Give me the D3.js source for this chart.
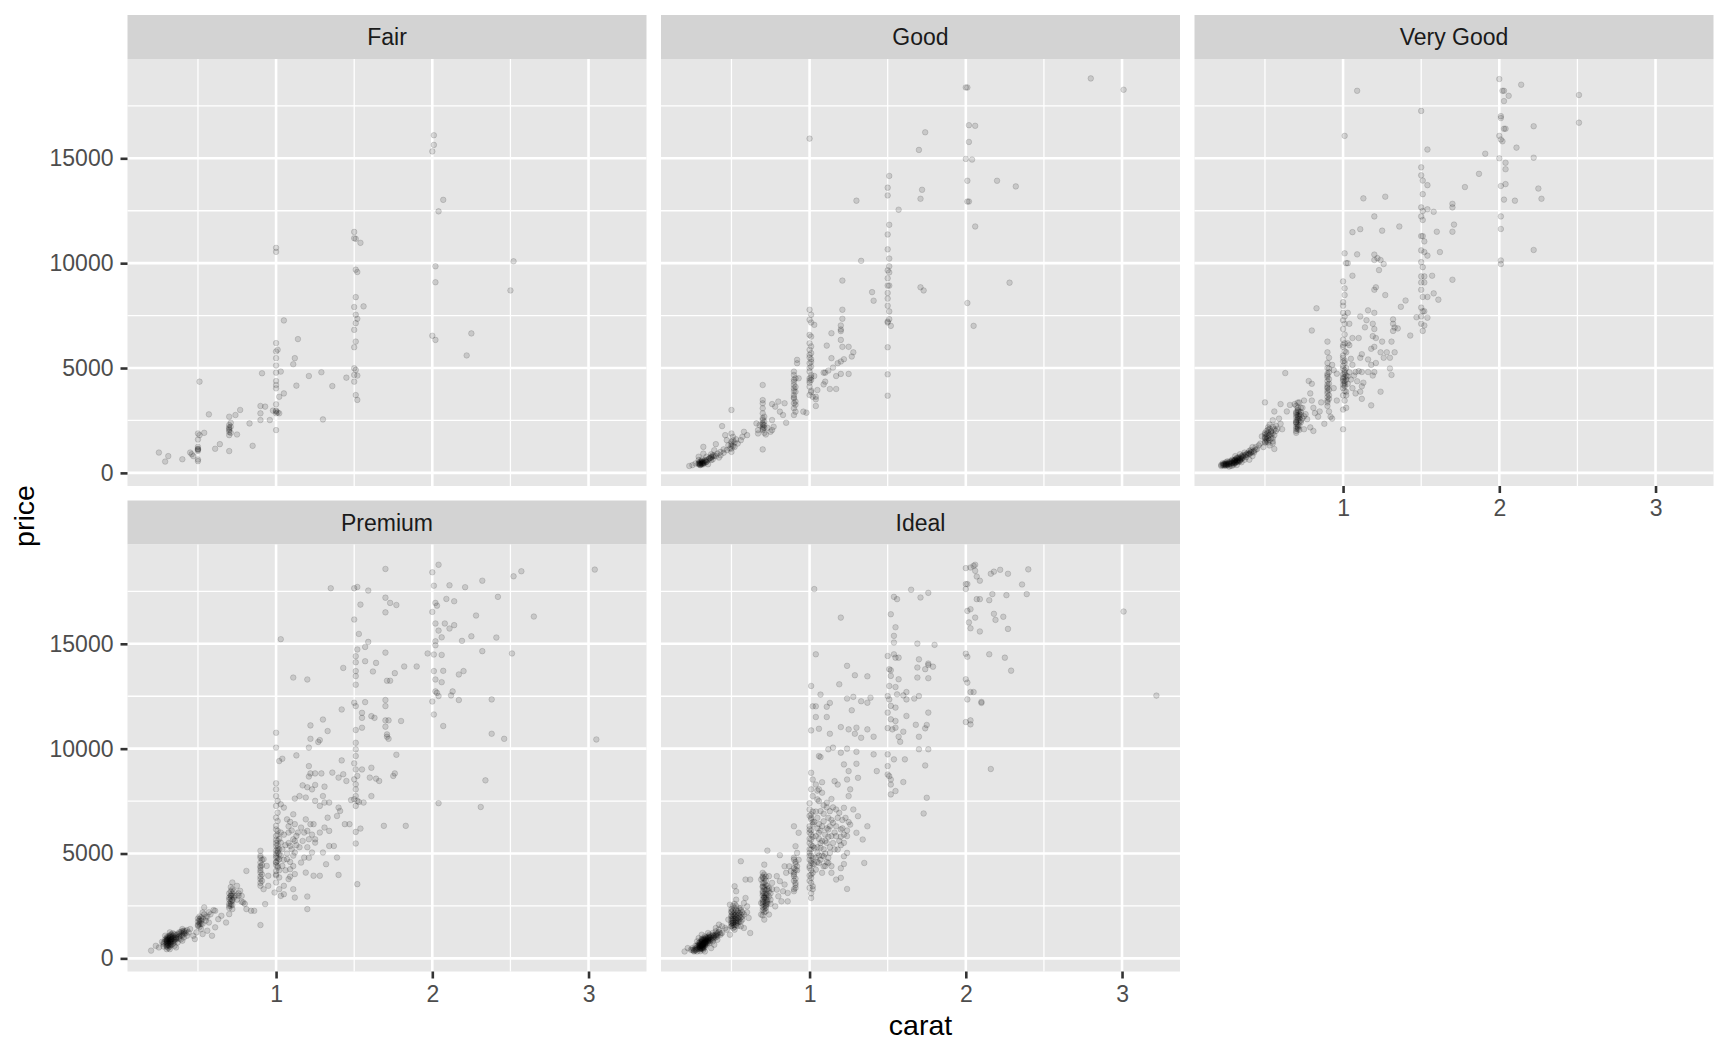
<!DOCTYPE html>
<html>
<head>
<meta charset="utf-8">
<title>Diamonds: price vs carat by cut</title>
<script src="https://d3js.org/d3.v7.min.js"></script>
<style>
  body { margin: 0; background: #ffffff; }
  svg text { font-family: "Liberation Sans", Arial, Helvetica, sans-serif; }
  .axis text { font-size: 23px; fill: #4d4d4d; }
  .axis line { stroke: #333333; stroke-width: 2.6; }
  .axis path { display: none; }
</style>
</head>
<body>
<div id="container"></div>
<script>
// FACET LABELS
const cuts = ["Fair", "Good", "Very Good", "Premium", "Ideal"];

// TICKS
const xTicks = [1, 2, 3];
const xMinor = [0.5, 1.5, 2.5];
const yTicks = [0, 5000, 10000, 15000];
const yMinor = [2500, 7500, 12500, 17500];

// POINTS [carat, price], one array per cut
const fair = [[0.25,970],[0.29,540],[0.31,800],[0.40,650],[0.45,970],[0.46,890],[0.47,800],[0.50,1880],[0.50,1590],[0.50,1240],[0.50,1130],[0.50,1050],[0.50,560],[0.50,640],[0.51,4350],[0.51,1800],[0.54,1910],[0.57,2790],[0.61,1150],[0.64,1370],[0.70,1040],[0.70,1800],[0.70,2040],[0.70,2280],[0.71,2390],[0.70,2170],[0.71,1910],[0.70,2680],[0.74,2760],[0.75,1830],[0.77,3000],[0.83,2360],[0.85,1290],[0.90,3190],[0.90,2840],[0.90,2520],[0.93,3160],[0.91,4750],[0.96,2520],[0.98,2970],[1.00,2040],[1.00,2970],[1.00,2840],[1.00,3270],[1.00,4030],[1.00,4190],[1.00,4380],[1.00,4780],[1.00,5120],[1.00,5470],[1.00,5790],[1.00,6190],[1.00,10730],[1.00,10540],[1.01,5870],[1.02,2840],[1.02,3630],[1.03,4830],[1.05,3790],[1.05,7270],[1.11,5180],[1.12,5470],[1.13,4160],[1.14,6380],[1.21,4620],[1.29,4800],[1.30,2550],[1.36,4140],[1.45,4540],[1.50,11490],[1.50,11190],[1.51,11160],[1.54,10970],[1.51,9690],[1.52,9580],[1.51,8380],[1.50,7910],[1.56,7940],[1.51,7540],[1.52,7350],[1.51,7140],[1.50,6820],[1.51,6260],[1.50,5990],[1.50,4990],[1.51,4910],[1.50,4670],[1.52,4640],[1.50,4350],[1.51,3710],[1.52,3480],[2.01,16100],[2.01,15640],[2.00,15330],[2.07,13020],[2.04,12470],[2.02,9850],[2.02,9090],[2.00,6540],[2.02,6340],[2.25,6650],[2.22,5600],[2.52,10090],[2.50,8700],
  [0.70,1950],[0.70,2100],[0.71,2200],[0.50,1150],[0.50,1100],[1.00,2930],[1.01,2880]];

const good = [[2.80,18810],[3.01,18270],[2.00,18380],[2.01,18380],[1.00,15940],[2.02,16580],[2.06,16550],[1.74,16240],[2.02,15780],[1.70,15400],[2.00,14970],[2.04,14940],[1.51,14160],[1.50,13600],[1.50,13230],[2.01,13930],[2.20,13930],[2.32,13660],[1.72,13500],[1.71,13070],[1.30,12980],[2.01,12940],[2.02,12940],[1.57,12550],[2.06,11750],[1.51,11830],[1.50,11370],[1.50,10660],[1.51,10220],[1.33,10110],
  [1.51,9850],[1.50,9660],[1.51,9560],[1.50,9280],[1.51,8930],[1.50,8930],[1.50,8580],[1.50,8310],[1.50,7970],[1.51,7700],[1.51,7330],[1.50,7220],[1.50,7170],[1.52,7010],
  [1.21,9170],[1.40,8620],[1.41,8210],[1.71,8850],[1.73,8700],[2.28,9070],[2.01,8100],[2.05,7010],[1.50,5990],[1.50,4700],[1.50,3680],
  [1.21,7780],[1.21,7350],[1.20,7030],[1.20,6840],[1.20,6760],[1.14,6660],[1.20,6340],[1.11,6070],[1.21,6010],[1.25,6010],[1.28,5750],[1.27,5550],[1.14,5470],[1.22,5420],[1.20,5310],[1.18,5230],[1.15,5020],[1.12,4880],[1.09,4780],[1.10,4780],[1.17,4620],[1.20,4720],[1.25,4720],[1.10,4350],[1.09,4220],[1.13,4000],[1.17,4000],[1.05,3950],[1.04,3510],[1.04,3190],
  [1.00,7780],[1.01,7540],[1.00,7300],[1.01,7170],[1.03,7060],[1.00,6580],[1.01,6500],[1.00,6180],[1.01,6030],[1.00,5870],[1.01,5710],[1.00,5630],[1.01,5420],[1.00,5230],[1.01,5070],[1.00,4830],[1.01,4670],[1.00,4510],[1.01,4430],[1.03,4620],[1.00,4110],[1.01,3920],[1.00,3710],[1.02,3630],[1.04,3630],
  [0.90,4830],[0.90,4670],[0.91,4510],[0.90,4350],[0.90,4190],[0.90,4030],[0.91,3870],[0.90,3710],[0.90,3550],[0.91,3400],[0.90,3320],[0.90,3080],[0.91,2920],[0.90,2760],
  [0.92,5390],[0.92,5230],[0.93,4510],[0.96,2920],[0.98,2870],[0.84,3320],[0.85,2390],[0.81,2920],[0.80,3400],[0.76,3280],[0.78,3160],[0.83,2760],[0.76,2520],[0.73,2150],[0.75,1960],
  [0.70,4190],[0.70,3470],[0.70,3320],[0.70,3080],[0.70,2840],[0.71,2680],[0.70,2520],[0.70,2360],[0.71,2280],[0.70,2200],[0.70,2040],[0.71,1910],[0.70,1120],
  [0.68,2280],[0.67,2040],[0.66,2360],[0.67,1880],[0.72,1830],[0.76,2040],[0.77,2200],
  [0.50,3000],[0.50,1880],[0.51,1720],[0.50,1480],[0.51,1280],[0.50,1160],[0.50,1000],[0.52,1240],[0.54,1400],[0.56,1560],[0.58,1960],[0.57,1720],[0.60,1800],[0.44,2230],[0.46,1800],[0.47,1560],[0.48,1320],[0.45,1120],[0.43,1000],
  [0.32,1240],[0.40,1370],[0.39,1080],[0.41,920],[0.38,840],[0.37,770],[0.42,730],[0.34,770],[0.36,690],[0.31,640],[0.30,530],[0.32,480],[0.29,410],[0.30,370],[0.27,450],[0.25,370],[0.23,330],[0.34,530],[0.35,410],[0.29,770],[0.32,920],[0.43,840],[0.45,960],[0.47,1080],[0.49,1160],
  [0.29,610],[0.31,530],[0.33,610],[0.31,450],[0.29,480],[0.32,410],[0.37,610],[0.38,640],[0.40,800],[0.37,890],
  [0.30,450],[0.31,500],[0.30,420],[0.31,440],[0.32,520],[0.31,560],[0.30,480],[0.29,440],[0.32,460],[0.33,560],[0.34,600],[0.35,640],[0.36,700],[0.37,720],[0.33,480],[0.34,520],[0.30,380],[0.31,400],[0.38,780],[0.39,820],
  [0.50,1400],[0.51,1550],[0.52,1450],[0.53,1600],[0.50,1300],[0.70,2100],[0.70,2300],[0.71,2450],[0.70,2600],[0.71,2150],[0.90,3600],[0.91,3250],[0.90,3900],[0.91,4100],[0.90,4450],[1.00,4400],[1.01,4550],[1.00,5000],[1.01,5300],[1.00,5500],[1.01,3850],[1.00,4300]];

const veryGood = [[2.00,18780],[2.14,18510],[2.02,18220],[2.03,18220],[2.06,17980],[2.03,17730],[2.51,18020],[2.51,16700],[1.09,18220],[1.50,17260],[1.01,16070],[2.01,17010],[2.01,16920],[2.03,16410],[2.04,16410],[2.00,16070],[2.01,15900],[2.02,15810],[2.22,16530],[2.11,15510],[1.54,15420],[1.91,15220],[2.22,15030],[2.00,15000],[2.04,14790],[2.04,14480],[1.87,14260],
  [1.50,14570],[1.50,14190],[1.51,13940],[1.54,13720],[2.01,13680],[2.04,13770],[1.78,13630],[2.25,13560],[2.27,13070],[2.10,12980],[2.03,13030],[1.51,13290],[1.13,13090],[1.27,13170],
  [1.50,12660],[1.51,12490],[1.54,12570],[1.50,12230],[1.51,12060],[1.70,12830],[1.70,12660],[1.58,12450],[1.20,12230],[2.01,12230],[2.01,11630],[1.71,11840],[1.70,11500],[1.36,11750],[1.25,11550],[1.11,11620],[1.06,11480],[1.60,11500],
  [1.50,11290],[1.51,11290],[1.52,11040],[2.22,10630],[1.62,10530],[1.50,10610],[1.52,10530],[1.54,10360],[1.01,10470],[1.02,10000],[1.03,10000],[1.09,10420],
  [1.20,10410],[1.20,10150],[1.24,10150],[1.26,9960],[1.22,10240],[2.01,10130],[2.01,9960],
  [1.50,10050],[1.51,9810],[1.50,9370],[1.52,9370],[1.57,9400],[1.50,9080],[1.52,9080],[1.06,9400],[1.70,9210],[1.23,9670],[1.00,9130],[1.21,8850],[1.20,8730],[1.27,8480],
  [1.01,8800],[1.01,8480],[1.00,8140],[1.00,7970],[1.50,8730],[1.51,8390],[1.54,8390],[1.58,8560],[1.61,8260],[1.50,7880],[1.52,7710],[1.51,7710],
  [1.40,8220],[1.37,7920],[0.83,7850],[1.32,7320],[1.16,7750],[1.20,7630],[1.11,7460],[1.15,7280],
  [1.47,7420],[1.50,7460],[1.54,7400],[1.50,7110],[1.52,7030],[1.51,6770],
  [1.00,7630],[1.01,7460],[1.00,7280],[1.01,7110],[1.03,7630],[0.80,6790],[1.43,6550],
  [1.19,7110],[1.20,6860],[1.19,6520],[1.21,6430],[1.32,7110],[1.35,6890],[1.32,6770],[1.33,6930],
  [1.00,6860],[1.01,6600],[1.00,6350],[1.01,6180],[1.00,6010],[1.02,5750],[1.00,5490],[1.01,5240],[1.00,4980],[1.01,4730],[1.01,4560],[1.00,4380],[1.01,4210],[1.00,4040],[1.02,3870],[1.00,3700],[1.01,3450],[1.00,3020],[1.02,3100],
  [1.03,6180],[1.04,6090],[1.06,6430],[1.04,7110],[1.05,5440],[1.06,5150],[1.07,4640],[1.08,4810],[1.09,4370],[1.11,5490],[1.10,4850],[1.12,4130],[1.11,3870],[1.13,4300],[1.12,3530],[1.08,3790],[1.06,4040],[1.00,2080],
  [1.00,4470],[1.01,4380],[1.01,4130],[1.02,4640],[1.00,5320],[1.01,4810],
  [1.10,6430],[1.12,5660],[1.14,6940],[1.16,5410],[1.18,5920],[1.20,6010],[1.21,5240],[1.19,4640],[1.25,6260],[1.24,5750],[1.28,5750],[1.26,5490],[1.30,5490],[1.31,6260],[1.30,4980],[1.31,4670],[1.33,5750],[1.24,3870],[1.18,3220],[1.16,4810],[1.18,5150],[1.20,4810],[1.12,4810],
  [0.90,6260],[0.90,5750],[0.91,5490],[0.90,5240],[0.91,4980],[0.90,4730],[0.91,4470],[0.90,4210],[0.90,4040],[0.90,3790],[0.91,3530],[0.90,3360],[0.90,3190],[0.91,2930],[0.92,2680],[0.93,2590],[0.94,4900],[0.96,4730],[0.94,4040],[0.96,3450],[0.93,5150],
  [0.90,4380],[0.91,3960],[0.90,3620],[0.90,4560],
  [0.63,4760],[0.78,4380],[0.80,4250],[0.71,3100],[0.71,2930],[0.70,2760],[0.71,2590],[0.70,2420],[0.72,2250],[0.71,2080],[0.70,1910],[0.73,2760],[0.74,3100],[0.75,3450],[0.72,3360],[0.69,3280],[0.73,2420],[0.75,2080],[0.77,2560],[0.79,3790],[0.80,3450],[0.81,3100],[0.82,2850],[0.84,2680],[0.85,2930],[0.86,3360],[0.88,2340],[0.79,2170],[0.81,2000],
  [0.70,2850],[0.71,2680],[0.70,2340],[0.70,2500],[0.72,2600],[0.71,2200],[0.70,2000],[0.72,2930],
  [0.50,3360],[0.56,2930],[0.60,3280],[0.66,3240],[0.64,2930],[0.59,2590],[0.55,2510],[0.52,2170],[0.51,2000],[0.50,1830],[0.52,1650],[0.51,1480],[0.53,1310],[0.54,1830],[0.55,1650],[0.56,2080],[0.57,2250],[0.60,2340],[0.61,2080],[0.55,1400],[0.48,1740],[0.47,1400],[0.49,1230],[0.56,1140],
  [0.50,1650],[0.51,1740],[0.52,1910],[0.53,1560],[0.50,1500],[0.54,2000],
  [0.22,380],[0.23,460],[0.24,340],[0.25,380],[0.26,550],[0.27,410],[0.28,340],[0.29,630],[0.31,460],[0.32,720],[0.33,510],[0.34,630],[0.35,800],[0.36,720],[0.37,970],[0.38,750],[0.40,890],[0.41,1090],[0.42,800],[0.43,970],[0.44,1230],[0.32,380],[0.29,340],[0.27,300],[0.25,510],[0.35,510],[0.40,630],[0.42,1230],[0.34,890],[0.31,800],[0.37,630],[0.45,1140],[0.46,1310],[0.22,330],
  [0.30,450],[0.31,520],[0.30,600],[0.32,550],[0.33,700],[0.31,640],[0.30,390],[0.26,420],[0.28,480],[0.24,420],[0.23,360],[0.35,700],[0.36,850],[0.38,900],[0.39,950],[0.41,1000],[0.40,1050],[0.33,600],[0.34,560],[0.29,500],
  [0.24,380],[0.25,420],[0.25,450],[0.26,400],[0.26,470],[0.27,450],[0.27,520],[0.28,430],[0.28,550],[0.29,470],[0.29,580],[0.30,520],[0.30,560],[0.31,580],[0.31,620],[0.32,600],[0.32,680],[0.33,650],[0.33,740],[0.34,700],[0.35,760],[0.36,780],[0.37,820],[0.38,860],[0.39,880],[0.40,920],[0.41,950],[0.42,1000],[0.43,1050],[0.44,1100],[0.23,400],[0.24,440],[0.25,350],[0.26,360],[0.30,480],[0.31,500],[0.32,520],[0.33,560],[0.34,610],[0.35,660],
  [0.50,1700],[0.50,1900],[0.51,1600],[0.51,1850],[0.52,1750],[0.52,2050],[0.53,1800],[0.53,2100],[0.54,1650],[0.54,1950],[0.55,1900],[0.55,2200],[0.56,1800],[0.57,2000],[0.58,2100],[0.50,1450],[0.51,1550],[0.52,1450],[0.53,2300],[0.55,1500],
  [0.70,2200],[0.70,2400],[0.70,2650],[0.70,2900],[0.71,2300],[0.71,2500],[0.71,2750],[0.71,3000],[0.72,2450],[0.72,2700],[0.72,2800],[0.73,2500],[0.73,2900],[0.74,2600],[0.75,2700],[0.76,2800],[0.70,2100],[0.71,2150],[0.72,2050],[0.73,3100],[0.70,3200],[0.71,3350],
  [0.90,3900],[0.90,4100],[0.91,4250],[0.90,4650],[0.91,3700],[0.90,3450],[0.91,4800],[0.90,5000],
  [1.00,4200],[1.00,4550],[1.01,4300],[1.00,4700],[1.01,4900],[1.00,5100],[1.01,5350],[1.00,5600],[1.01,5800],[1.00,6100],[1.01,3900],[1.02,4450],[1.02,5000],[1.03,4600],[1.03,4250],[1.04,4800],[1.05,4450],[1.02,3700]];

const premium = [[3.04,18540],[3.05,10440],[1.70,18570],[2.04,18770],[2.00,18410],[2.57,18460],[2.52,18220],[2.32,18010],[1.35,17650],[1.50,17650],[1.52,17710],[1.59,17540],[2.01,17770],[2.11,17790],[2.21,17700],[2.42,17240],[1.70,17200],[1.73,16950],[1.77,16850],[1.54,16870],[1.70,16500],
  [2.02,16950],[2.03,16820],[2.09,17140],[2.14,17030],[2.00,16520],[2.28,16350],[2.65,16300],[1.50,16160],[2.02,15970],[2.08,15970],[2.14,15890],[2.04,15630],[2.11,15730],[1.53,15470],[1.03,15220],[1.59,15090],[1.57,14850],
  [2.02,15120],[2.06,15310],[2.02,14930],[2.19,15140],[2.25,15360],[2.41,15300],[1.52,14730],[1.51,14410],[1.57,14170],[1.64,14090],[1.62,13680],[1.70,14580],[1.97,14540],[2.01,14490],[2.06,14470],[2.32,14650],[2.51,14540],
  [1.43,13850],[1.51,14120],[1.51,13700],[1.51,13460],[1.51,13050],[1.82,13920],[1.90,13920],[1.11,13390],[1.20,13300],[1.76,13600],[1.73,13240],[1.71,13240],
  [2.01,13700],[2.07,13710],[2.02,13300],[2.06,13170],[2.17,13540],[2.20,13700],[2.03,12660],[2.02,12730],[2.12,12540],[2.13,12730],[2.04,12510],[2.00,12250],[2.17,12320],[2.38,12350],[2.01,11630],[2.07,11080],[2.38,10710],[2.46,10470],
  [1.50,12190],[1.51,12030],[1.57,12220],[1.55,11710],[1.55,11470],[1.61,11550],[1.63,11470],[1.55,11000],[1.51,10890],[1.42,11870],[1.70,12320],[1.70,12030],[1.80,11320],
  [1.70,11350],[1.72,11350],[1.70,11050],[1.71,10680],[1.71,10570],[1.72,10470],[1.30,11390],[1.22,11110],[1.33,10840],[1.00,10760],[1.00,10050],
  [1.21,10050],[1.22,10470],[1.27,10320],[1.28,10410],[1.77,9710],[1.13,9680],[1.04,9520],[1.02,9410],[1.42,9440],
  [1.51,10280],[1.51,9970],[1.51,9650],[1.50,9300],[1.51,9010],[1.52,8700],[1.50,8540],[1.51,8300],[1.51,8060],[1.51,7740],[1.50,7590],[1.52,7510],
  [1.21,9170],[1.22,8820],[1.25,8820],[1.29,8820],[1.21,8670],[1.36,8860],[1.43,8780],[1.45,8460],[1.40,8620],
  [1.55,9010],[1.61,9090],[1.60,8620],[1.64,8570],[1.66,8460],[1.75,8700],[1.76,8820],[2.34,8490],[2.04,7400],[2.31,7220],[1.69,6320],[1.83,6320],
  [1.61,7740],[1.56,7430],[1.48,7550],[1.51,7270],[1.53,7460],[1.47,6400],[1.51,6030],[1.51,5480],[1.52,3540],[1.54,6190],
  [1.31,8190],[1.25,8270],[1.17,8250],[1.20,8160],[1.30,7740],[1.31,7430],
  [1.12,7620],[1.15,7740],[1.19,7670],[1.23,8060],[1.25,7510],[1.28,7270],[1.34,7430],[1.40,7190],[1.41,7030],[1.39,6790],[1.44,6400],
  [1.00,8350],[1.00,8060],[1.00,7740],[1.01,7510],[1.00,7270],[1.01,6950],[1.00,6710],[1.01,6550],[1.00,6320],[1.01,6080],[1.00,5840],[1.01,5600],[1.00,5360],[1.01,5130],[1.00,4890],[1.02,4730],[1.00,4570],[1.01,4330],[1.00,4170],[1.02,3860],[1.00,3620],[1.02,3300],[1.03,2980],[1.02,5210],[1.03,5520],[1.03,6000],
  [1.00,5000],[1.01,4800],[1.00,5500],[1.01,5250],[1.00,4450],[1.01,4650],[1.02,4950],[1.00,6150],[1.01,5900],[1.00,3950],
  [1.03,7350],[1.05,7190],[1.07,6630],[1.09,6510],[1.11,6870],[1.12,6400],[1.08,6000],[1.11,5680],[1.13,5840],[1.09,5360],[1.12,5050],[1.07,4730],[1.04,4410],[1.09,4250],[1.12,4020],[1.08,3780],[1.05,3460],[1.11,3300],[1.12,2900],[1.05,3060],[1.20,2950],[1.20,2350],[1.19,4090],[1.24,3940],[1.28,3940],[1.32,4490],[1.39,4810],[1.40,3980],[1.23,5050],[1.18,4810],[1.16,4570],[1.21,5680],[1.25,5520],[1.28,6000],[1.16,6240],[1.19,6630],[1.24,6400],[1.31,6240],[1.34,6080],[1.20,6080],[1.25,5680],[1.30,5050],[1.34,5360],[1.37,5360],[1.33,6710],
  [0.90,5130],[0.90,4890],[0.90,4570],[0.90,4330],[0.90,4090],[0.90,3780],[0.90,3460],[0.92,3300],[0.93,2590],[0.90,1590],[0.92,4730],[0.94,4410],[0.95,3460],[0.99,3140],[0.95,3940],
  [0.90,4200],[0.91,4000],[0.90,3600],[0.91,4450],
  [0.72,3620],[0.72,3300],[0.71,2980],[0.72,2750],[0.71,2510],[0.72,2350],[0.70,2110],[0.75,3460],[0.77,3220],[0.78,2980],[0.79,2670],[0.81,2350],[0.84,2270],[0.86,2270],[0.81,4170],[0.76,2980],[0.68,1710],[0.63,1870],[0.65,2030],
  [0.70,3100],[0.71,3400],[0.72,3000],[0.70,2800],[0.71,2600],[0.73,3200],[0.70,2400],
  [0.51,1870],[0.51,1630],[0.52,1400],[0.53,2190],[0.54,2430],[0.55,1950],[0.57,1710],[0.61,1480],[0.61,2270],[0.56,1320],[0.59,1080],[0.49,1240],[0.48,920],[0.53,1160],
  [0.50,1750],[0.51,1500],[0.52,1800],[0.50,1550],[0.53,1650],
  [0.20,370],[0.23,600],[0.25,520],[0.28,680],[0.30,840],[0.31,600],[0.32,440],[0.30,440],[0.29,1080],[0.33,920],[0.35,600],[0.36,1000],[0.37,760],[0.38,1240],[0.39,1080],[0.40,840],[0.41,1320],[0.43,1080],[0.33,1160],[0.32,760],[0.36,520],[0.31,950],[0.28,570],[0.27,790],[0.40,1400],[0.37,1160],[0.44,1240],[0.45,1400],[0.47,1080],[0.32,1240],[0.38,950],
  [0.30,650],[0.31,700],[0.32,800],[0.33,850],[0.34,700],[0.30,550],[0.31,500],[0.32,620],[0.35,900],[0.36,950],[0.34,1000],[0.35,780],[0.40,1100],[0.41,1000],[0.39,900],[0.31,750],[0.30,720],[0.33,640],[0.42,1200],[0.38,1050],
  [0.30,780],[0.30,900],[0.30,1000],[0.31,820],[0.31,880],[0.31,1050],[0.32,700],[0.32,860],[0.32,980],[0.32,1100],[0.33,780],[0.33,900],[0.33,1020],[0.34,820],[0.34,940],[0.34,1080],[0.35,880],[0.35,1000],[0.35,1150],[0.36,900],[0.36,1100],[0.37,1000],[0.38,1150],[0.39,1250],[0.40,1200],[0.41,1150],[0.42,1300],[0.30,600],[0.31,640],[0.32,560],[0.33,700],[0.30,950],[0.31,980],[0.32,1050],[0.33,1100],[0.34,1200],[0.31,900],[0.32,940],[0.30,850],[0.29,800],[0.29,900],[0.28,750],[0.40,1300],[0.41,1250],[0.43,1350],
  [0.50,1600],[0.51,1700],[0.51,1800],[0.52,1650],[0.52,1950],[0.53,1900],[0.54,2100],[0.55,1800],[0.56,2000],[0.57,2200],[0.58,2100],[0.60,2300],[0.50,1900],[0.51,2000],
  [0.70,2600],[0.70,2900],[0.71,2700],[0.71,3000],[0.72,2800],[0.72,3100],[0.70,2500],[0.71,3200],[0.72,2550],[0.73,2900],[0.74,3000],[0.75,2800],[0.76,3100],[0.78,2700],[0.80,2600],[0.71,2850],
  [0.90,3900],[0.90,4400],[0.91,4700],[0.90,4800],[0.91,3700],
  [1.00,4600],[1.00,4800],[1.01,5050],[1.00,5150],[1.01,5400],[1.00,5650],[1.01,4400],[1.02,4200],[1.00,4000],[1.02,5700],[1.03,4900],[1.04,5200],[1.05,4700],[1.06,5400],[1.07,5000],[1.08,5500],[1.09,4600],[1.10,5200],[1.11,4900],[1.12,5600],[1.13,5400],[1.05,5900],[1.08,6300],[1.10,6100],[1.14,6000],[1.15,5300],[1.17,5600],[1.18,6000],[1.20,5300],[1.21,4800],[1.22,6400],[1.23,5900],[1.06,4200],[1.09,3900],[1.11,4400]];

const ideal = [[3.22,12530],[3.01,16540],[2.00,18610],[2.05,18720],[2.06,18770],[2.03,18640],[2.06,18480],[2.07,18210],[2.09,18010],[2.00,17850],[2.01,17850],[2.00,17610],
  [2.16,18340],[2.18,18440],[2.22,18530],[2.27,18340],[2.40,18550],[2.36,17830],[2.39,17370],[2.26,17320],[2.17,17370],[2.15,17080],[2.09,17130],[2.07,17130],
  [1.03,17610],[1.65,17580],[1.71,17210],[1.76,17430],[1.54,17240],[1.56,17130],[1.52,16410],[1.20,16250],
  [2.01,16570],[2.03,16650],[2.06,16250],[2.02,16020],[2.03,15740],[2.09,15590],[2.18,16430],[2.19,16140],[2.24,16290],[2.27,15710],
  [1.55,15790],[1.54,15380],[1.54,15060],[1.69,15010],[1.80,14950],[1.04,14500],[2.00,14530],[2.01,14380],[2.15,14500],[2.25,14340],[2.29,13720],
  [1.50,14420],[1.54,14500],[1.55,14340],[1.57,14340],[1.24,13950],[1.29,13500],[1.37,13450],
  [1.70,14260],[1.76,14060],[1.76,13990],[1.79,13910],[1.69,13870],[1.74,13790],[1.69,13390],[1.76,13360],
  [2.00,13310],[2.01,13150],[2.03,12700],[2.05,12700],[2.01,12350],[2.10,12230],[2.10,12180],[2.00,11270],[2.03,11350],[2.03,11160],[2.16,9030],
  [1.51,13790],[1.52,13740],[1.52,13470],[1.51,12990],[1.55,12940],[1.50,12510],[1.51,12350],[1.52,12040],[1.56,12590],[1.60,12540],[1.62,12350],[1.55,11960],
  [1.01,12990],[1.07,12580],[1.13,12180],[1.02,12020],[1.04,12020],[1.11,12000],
  [1.19,13070],[1.24,12390],[1.28,12470],[1.33,12260],[1.37,12190],[1.39,12430],[1.27,11830],
  [1.04,11510],[1.11,11510],[1.06,10950],[1.01,10870],[1.13,10710],
  [1.20,11030],[1.25,10920],[1.30,11000],[1.37,10920],[1.29,10710],[1.33,10520],[1.41,10570],
  [1.50,11720],[1.52,11400],[1.55,11320],[1.53,10920],[1.50,10980],[1.55,11000],[1.57,10570],[1.58,10330],[1.62,11560],[1.60,10810],
  [1.70,12510],[1.67,12390],[1.76,11720],[1.68,11140],[1.75,11130],[1.74,10970],[1.70,10570],[1.70,9970],[1.76,9970],[1.74,9200],[1.75,7660],[1.73,6910],
  [1.57,13310],[1.62,12700],
  [1.06,9650],[1.07,9600],[1.12,9970],[1.15,10050],[1.20,9810],[1.24,10000],[1.30,9850],[1.41,9730],[1.30,9280],[1.22,9250],[1.25,8930],[1.31,8610],[1.43,8930],
  [1.50,9730],[1.50,9170],[1.50,8770],[1.51,8690],[1.52,8530],[1.52,8290],[1.52,7820],[1.55,7980],[1.60,8410],[1.61,9490],[1.54,9490],
  [1.01,8850],[1.02,8530],[1.01,8060],[1.02,7740],[1.00,7100],[1.01,6860],[1.01,6620],[1.02,6380],[1.00,6150],[1.01,5910],[1.01,5670],[1.02,5350],[1.00,5030],[1.02,4790],[1.01,4550],[1.00,4310],[1.02,4080],[1.01,3840],[1.02,3440],[1.00,3360],[1.01,2880],
  [1.00,5500],[1.01,5200],[1.00,4900],[1.01,4650],[1.00,6000],[1.02,5800],[1.00,4400],[1.01,4200],[1.02,6500],[1.00,6800],[1.01,3600],[1.00,3950],
  [1.04,8290],[1.06,8060],[1.08,7900],[1.05,7580],[1.11,7420],[1.13,7020],[1.07,7020],[1.05,6700],[1.09,6540],[1.12,6150],[1.06,5990],[1.15,6460],[1.14,5830],[1.11,5510],[1.07,5270],[1.05,5030],[1.09,4870],[1.13,5030],[1.12,4550],[1.06,4550],[1.04,4230],[1.08,4080],[1.14,4080],[1.17,3760],[1.20,3840],[1.24,3310],[1.18,5190],[1.22,5510],[1.24,5830],[1.20,6150],[1.26,6380],[1.19,6940],[1.22,7180],[1.25,7740],[1.26,8060],[1.18,8290],[1.16,8450],[1.24,8530],[1.28,7100],[1.31,6780],[1.37,6300],[1.34,5670],[1.30,5990],[1.22,4870],[1.24,5030],[1.35,4550],[1.17,5830],[1.09,4390],[1.03,5270],[1.04,5830],
  [1.05,6200],[1.08,5600],[1.10,5900],[1.12,6700],[1.15,7200],[1.10,5000],[1.07,4700],[1.13,5300],[1.16,6000],[1.20,5400],[1.06,6400],[1.09,7300],[1.11,4600],[1.14,4400],[1.21,6600],
  [1.00,4700],[1.00,5200],[1.01,5400],[1.00,5700],[1.01,6100],[1.00,6300],[1.01,6700],[1.02,7000],[1.00,7400],[1.01,4900],[1.02,4500],[1.01,4000],[1.00,3700],[1.02,3300],[1.01,3100],
  [1.03,4500],[1.04,4800],[1.05,5300],[1.06,5700],[1.07,6100],[1.08,6300],[1.05,4600],[1.06,4900],[1.07,5500],[1.08,4900],[1.09,5200],[1.10,5600],[1.11,6200],[1.12,5800],[1.13,6300],[1.14,6600],[1.10,4400],[1.12,4800],[1.15,5500],[1.16,5200],[1.17,6300],[1.18,6700],[1.19,5600],[1.20,5800],[1.21,6200],[1.22,5900],[1.23,6700],[1.24,6100],[1.25,6500],[1.20,4300],[1.22,4500],[1.09,6900],[1.11,7200],[1.14,7600],[1.17,7100],[1.05,8000],[1.08,8400],[1.03,6500],[1.04,7000],[1.06,7500],
  [0.90,6300],[0.93,5990],[0.91,5350],[0.92,5030],[0.90,4710],[0.92,4390],[0.91,4230],[0.90,3920],[0.91,3600],[0.91,3360],[0.90,3200],[0.88,4160],[0.87,4390],[0.85,4080],[0.84,3520],[0.86,3120],[0.86,2720],
  [0.90,4000],[0.91,4500],[0.90,3700],[0.91,3800],[0.90,4100],[0.90,4300],[0.91,4600],[0.90,4800],[0.91,3500],[0.90,3300],[0.92,4200],[0.93,4700],
  [0.73,5140],[0.71,4470],[0.70,4080],[0.69,3760],[0.70,3440],[0.70,3120],[0.71,2880],[0.69,2640],[0.72,2560],[0.69,2090],[0.72,2240],[0.74,3920],[0.74,3200],[0.76,3600],[0.79,3920],[0.81,3680],[0.79,3280],[0.75,2800],[0.78,2480],[0.80,2960],[0.82,2720],[0.81,4920],[0.84,4390],[0.83,3200],[0.74,2090],[0.71,1850],
  [0.70,3000],[0.71,3300],[0.70,2700],[0.72,3500],[0.71,2500],[0.70,2300],[0.72,2900],[0.71,3600],[0.70,3850],[0.73,2700],[0.72,3100],[0.71,2200],[0.70,2050],[0.73,3300],[0.71,2950],[0.72,2400],
  [0.70,2600],[0.70,2800],[0.70,3200],[0.70,3400],[0.70,3600],[0.71,2700],[0.71,2900],[0.71,3100],[0.71,3400],[0.71,3800],[0.72,2650],[0.72,2800],[0.72,3000],[0.72,3250],[0.72,3700],[0.73,2800],[0.73,3050],[0.73,3450],[0.74,2950],[0.74,3350],[0.75,3100],[0.76,3300],[0.70,2450],[0.71,2350],[0.72,2500],[0.73,2600],[0.70,3900],[0.71,4000],[0.72,3900],[0.75,2600],
  [0.56,4630],[0.52,3440],[0.53,3200],[0.59,3760],[0.62,3760],[0.49,2560],[0.50,2240],[0.52,2010],[0.53,1770],[0.50,1530],[0.54,2170],[0.56,2400],[0.57,1850],[0.58,2640],[0.60,2480],[0.61,1930],[0.62,1210],[0.52,1370],[0.49,1130],[0.58,1450],[0.53,2800],[0.59,2880],[0.51,1690],[0.48,1850],[0.56,1530],
  [0.50,1900],[0.51,2100],[0.52,1600],[0.53,2300],[0.54,1800],[0.55,2000],[0.50,1700],[0.51,1450],[0.52,2200],[0.54,1550],[0.55,1750],[0.53,1950],[0.56,2100],[0.51,1800],[0.52,1900],[0.50,2050],
  [0.50,1650],[0.50,1800],[0.50,2000],[0.50,2200],[0.51,1700],[0.51,1900],[0.51,2000],[0.51,2300],[0.52,1750],[0.52,2050],[0.52,2400],[0.53,1700],[0.53,1850],[0.53,2100],[0.54,1900],[0.54,2250],[0.55,1850],[0.55,2150],[0.56,1950],[0.56,2300],[0.57,2000],[0.57,2200],[0.58,2100],[0.60,2200],[0.50,1550],[0.51,1600],[0.52,1500],[0.53,1600],[0.54,2050],[0.55,2400],[0.50,2350],[0.51,2500],[0.52,2600],[0.53,2500],[0.54,1700],[0.56,1750],
  [0.20,330],[0.22,490],[0.25,490],[0.27,600],[0.29,730],[0.30,490],[0.31,890],[0.32,650],[0.33,1050],[0.35,810],[0.36,1130],[0.37,890],[0.38,1210],[0.39,970],[0.40,1290],[0.41,1050],[0.42,1370],[0.43,1130],[0.44,1210],[0.46,1450],[0.28,330],[0.30,340],[0.32,410],[0.26,330],[0.24,410],[0.29,970],[0.33,600],[0.36,730],[0.38,810],[0.41,890],[0.42,1610],[0.40,1450],[0.28,810],[0.31,1130],[0.35,1210],[0.44,1530],[0.47,1370],[0.39,650],[0.37,490],[0.27,410],[0.33,330],
  [0.30,600],[0.31,550],[0.32,700],[0.30,700],[0.31,650],[0.32,800],[0.33,750],[0.34,850],[0.30,550],[0.31,500],[0.32,560],[0.33,680],[0.34,720],[0.35,900],[0.36,950],[0.31,800],[0.30,800],[0.32,900],[0.33,950],[0.34,1000],[0.35,1050],[0.36,1000],[0.38,1100],[0.40,1100],[0.31,450],[0.32,480],[0.30,420],[0.29,550],[0.28,620],[0.33,520],
  [0.26,420],[0.27,480],[0.28,520],[0.29,600],[0.30,650],[0.30,580],[0.31,620],[0.31,700],[0.32,740],[0.32,660],[0.33,800],[0.33,720],[0.34,780],[0.34,900],[0.35,860],[0.35,950],[0.36,880],[0.36,1020],[0.37,960],[0.37,1060],[0.38,1000],[0.38,900],[0.39,1100],[0.39,1050],[0.40,1150],[0.40,1000],[0.41,1200],[0.41,1130],[0.42,1250],[0.43,1200],[0.30,680],[0.31,760],[0.32,600],[0.33,860],[0.29,640],[0.30,520],[0.31,580],[0.32,680],[0.33,640],[0.34,820],[0.35,740],[0.36,820],[0.30,460],[0.31,480],[0.32,520],[0.28,440],[0.29,470],[0.27,380],[0.26,360],[0.25,400],[0.31,920],[0.32,960],[0.33,900],[0.34,950],[0.30,750],[0.31,840],[0.32,860],[0.33,780],[0.34,660],[0.35,990]];

const cutData = [fair, good, veryGood, premium, ideal];

// DIMENSIONS & FACET LAYOUT
const width = 1728, height = 1056;
const panel = { left: 127.5, top: 15, width: 519, height: 427, strip: 44, gap: 14.5 };
const ncol = 3;

const svg = d3.select("#container")
  .append("svg")
  .attr("width", width)
  .attr("height", height);

svg.append("rect").attr("width", width).attr("height", height).attr("fill", "#ffffff");

// SHARED SCALES, 5% expansion like ggplot
const all = cutData.flat();
const xExt = d3.extent(all, d => d[0]);
const yExt = d3.extent(all, d => d[1]);
const xPad = (xExt[1] - xExt[0]) * 0.05;
const yPad = (yExt[1] - yExt[0]) * 0.05;

const x = d3.scaleLinear()
  .domain([xExt[0] - xPad, xExt[1] + xPad])
  .range([0, panel.width]);
const y = d3.scaleLinear()
  .domain([yExt[0] - yPad, yExt[1] + yPad])
  .range([panel.height, 0]);

cuts.forEach((cut, i) => {
  const col = i % ncol, row = Math.floor(i / ncol);
  const px = panel.left + col * (panel.width + panel.gap);
  const py = panel.top + row * (panel.strip + panel.height + panel.gap) + panel.strip;
  const g = svg.append("g").attr("transform", `translate(${px},${py})`);

  // STRIP
  g.append("rect")
    .attr("y", -panel.strip)
    .attr("width", panel.width)
    .attr("height", panel.strip)
    .attr("fill", "#d3d3d3");
  g.append("text")
    .attr("x", panel.width / 2)
    .attr("y", -panel.strip / 2)
    .attr("dy", "0.36em")
    .attr("text-anchor", "middle")
    .attr("font-size", 23)
    .attr("fill", "#1a1a1a")
    .text(cut);

  // PANEL BACKGROUND
  g.append("rect")
    .attr("width", panel.width)
    .attr("height", panel.height)
    .attr("fill", "#e6e6e6");

  // GRID: minor first, then major
  g.selectAll(".xminor").data(xMinor).join("line")
    .attr("x1", d => x(d)).attr("x2", d => x(d))
    .attr("y1", 0).attr("y2", panel.height)
    .attr("stroke", "#ffffff").attr("stroke-width", 1.3);
  g.selectAll(".yminor").data(yMinor).join("line")
    .attr("y1", d => y(d)).attr("y2", d => y(d))
    .attr("x1", 0).attr("x2", panel.width)
    .attr("stroke", "#ffffff").attr("stroke-width", 1.3);
  g.selectAll(".xmajor").data(xTicks).join("line")
    .attr("x1", d => x(d)).attr("x2", d => x(d))
    .attr("y1", 0).attr("y2", panel.height)
    .attr("stroke", "#ffffff").attr("stroke-width", 2.6);
  g.selectAll(".ymajor").data(yTicks).join("line")
    .attr("y1", d => y(d)).attr("y2", d => y(d))
    .attr("x1", 0).attr("x2", panel.width)
    .attr("stroke", "#ffffff").attr("stroke-width", 2.6);

  // POINTS
  g.append("g").selectAll("circle")
    .data(cutData[i])
    .join("circle")
    .attr("cx", d => x(d[0]))
    .attr("cy", d => y(d[1]))
    .attr("r", 2.8)
    .attr("fill", "#000000")
    .attr("fill-opacity", 0.13)
    .attr("stroke", "#000000")
    .attr("stroke-opacity", 0.13)
    .attr("stroke-width", 1);

  // AXES: y on first column, x under the last panel of each column
  if (col === 0) {
    g.append("g")
      .attr("class", "axis")
      .call(d3.axisLeft(y).tickValues(yTicks).tickSize(7).tickPadding(7).tickFormat(d3.format("d")));
  }
  if (i + ncol >= cuts.length) {
    g.append("g")
      .attr("class", "axis")
      .attr("transform", `translate(0,${panel.height})`)
      .call(d3.axisBottom(x).tickValues(xTicks).tickSize(7).tickPadding(7).tickFormat(d3.format("d")));
  }
});

// AXIS TITLES
svg.append("text")
  .attr("x", panel.left + (3 * panel.width + 2 * panel.gap) / 2)
  .attr("y", 1035)
  .attr("text-anchor", "middle")
  .attr("font-size", 28.5)
  .attr("fill", "#000000")
  .text("carat");

svg.append("text")
  .attr("transform", "translate(34,516) rotate(-90)")
  .attr("text-anchor", "middle")
  .attr("font-size", 28.5)
  .attr("fill", "#000000")
  .text("price");
</script>
</body>
</html>
